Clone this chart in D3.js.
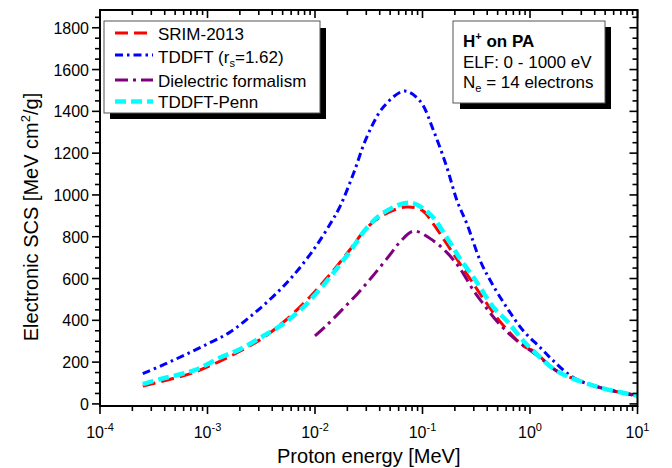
<!DOCTYPE html>
<html><head><meta charset="utf-8">
<script src="https://cdn.jsdelivr.net/npm/d3@7"></script>
<style>body{margin:0;background:#fff}svg{display:block}text{font-family:"Liberation Sans",Arial,sans-serif}</style>
</head><body><svg id="c" width="672" height="468"></svg>
<script>
// ---- data (energy in MeV, SCS in MeV cm^2/g) ----
const srimE = [2.5e-4,4.5e-4,7.4e-4,1.22e-3,2e-3,3.3e-3,5.1e-3,7.8e-3,0.0104,0.0149,0.0213,0.0304,0.0435,0.07,0.1,0.127,0.169,0.225,0.3,0.4,0.57,0.87,1.08,1.78,4.5,10];
const srimV = [85,118,150,197,252,317,392,480,548,640,740,843,905,942,925,859,764,668,572,477,373,277,253,157,78,40];
const tddftE = [2.5e-4,4e-4,6.3e-4,1e-3,1.58e-3,2.5e-3,4e-3,6.3e-3,0.01,0.0141,0.0172,0.0229,0.0304,0.0435,0.068,0.095,0.127,0.169,0.21,0.26,0.345,0.43,0.61,0.87,1.25,1.66,2.55,4.5,10];
const tddftV = [145,190,237,287,340,418,510,615,748,868,948,1105,1278,1422,1497,1449,1306,1130,971,859,684,588,460,349,269,205,125,78,38];
const dielE = [0.01,0.0126,0.0178,0.0251,0.0355,0.05,0.063,0.083,0.127,0.169,0.209,0.242,0.3,0.37,0.49,0.7,1.25,1.78,4.5,10];
const dielV = [325,372,450,530,620,715,780,827,780,724,668,620,540,477,397,317,221,157,78,40];
const pennE = [2.5e-4,3.6e-4,5.6e-4,8e-4,1.3e-3,2e-3,3.3e-3,5.1e-3,7.8e-3,0.0104,0.0149,0.0213,0.0304,0.0435,0.077,0.118,0.169,0.225,0.3,0.345,0.46,0.61,0.87,1.08,1.78,4.5,10];
const pennV = [95,118,142,166,221,261,325,384,463,532,628,732,843,915,963,907,795,692,604,556,460,397,301,253,157,78,40];
const seriesNames = ["SRIM-2013","TDDFT (r","Dielectric formalism","TDDFT-Penn"];
const xTickExp = [-4,-3,-2,-1,0,1];
const yTicks = [0,200,400,600,800,1000,1200,1400,1600,1800];
const infoLines = ["on PA","ELF: 0 - 1000 eV","= 14 electrons"];

const svg = d3.select("#c");
const L=100, R=637.5, T=10, B=406;
const x = d3.scaleLog().domain([1e-4,10]).range([L,R]);
const y = d3.scaleLinear().domain([-10,1885]).range([B,T]);

// curves
const styles = [
  {E:srimE,V:srimV,color:"#ff0000",w:3,dash:"13,6"},
  {E:tddftE,V:tddftV,color:"#0000ff",w:3,dash:"8,4,2.5,4"},
  {E:dielE,V:dielV,color:"#800080",w:3,dash:"13,5,3,5"},
  {E:pennE,V:pennV,color:"#00ffff",w:4.5,dash:"11,5"}
];
const line = d3.line().x(d=>x(d[0])).y(d=>y(d[1])).curve(d3.curveCatmullRom.alpha(0.5));
const g = svg.append("g");
styles.forEach(s=>{
  g.append("path").attr("d",line(s.E.map((e,i)=>[e,s.V[i]])))
   .attr("fill","none").attr("stroke",s.color).attr("stroke-width",s.w)
   .attr("stroke-dasharray",s.dash);
});

// frame
svg.append("rect").attr("x",L).attr("y",T).attr("width",R-L).attr("height",B-T)
  .attr("fill","none").attr("stroke","#000").attr("stroke-width",2);

// axes
const minorX=[];
for(let p=-4;p<1;p++) for(let k=2;k<10;k++) minorX.push(k*Math.pow(10,p));
const majorX = xTickExp.map(e=>Math.pow(10,e));
const tk = svg.append("g").attr("stroke","#000").attr("stroke-width",1.6);
majorX.forEach(v=>{
  tk.append("line").attr("x1",x(v)).attr("x2",x(v)).attr("y1",B).attr("y2",B+8);
  tk.append("line").attr("x1",x(v)).attr("x2",x(v)).attr("y1",T).attr("y2",T+8);
});
minorX.forEach(v=>{
  tk.append("line").attr("x1",x(v)).attr("x2",x(v)).attr("y1",B).attr("y2",B+5);
  tk.append("line").attr("x1",x(v)).attr("x2",x(v)).attr("y1",T).attr("y2",T+5);
});
const minorY=[]; for(let v=0;v<=1850;v+=50) if(v%200!==0) minorY.push(v);
yTicks.forEach(v=>{
  tk.append("line").attr("x1",L-8).attr("x2",L).attr("y1",y(v)).attr("y2",y(v));
  tk.append("line").attr("x1",R-8).attr("x2",R).attr("y1",y(v)).attr("y2",y(v));
});
minorY.forEach(v=>{
  tk.append("line").attr("x1",L-5).attr("x2",L).attr("y1",y(v)).attr("y2",y(v));
  tk.append("line").attr("x1",R-5).attr("x2",R).attr("y1",y(v)).attr("y2",y(v));
});
// tick labels
yTicks.forEach(v=>{
  svg.append("text").attr("x",L-11).attr("y",y(v)+6).attr("text-anchor","end")
    .attr("font-size",16).text(v);
});
xTickExp.forEach(e=>{
  const t = svg.append("text").attr("x",x(Math.pow(10,e))).attr("y",438).attr("text-anchor","middle").attr("font-size",16);
  t.append("tspan").text("10");
  t.append("tspan").attr("font-size",11).attr("dy",-7).text(e);
});
// titles
svg.append("text").attr("x",(L+R)/2).attr("y",463).attr("text-anchor","middle").attr("font-size",20).text("Proton energy [MeV]");
const yt = svg.append("text").attr("transform","translate(38,217) rotate(-90)").attr("text-anchor","middle").attr("font-size",20);
yt.append("tspan").text("Electronic SCS [MeV cm");
yt.append("tspan").attr("font-size",13).attr("dy",-8).text("2");
yt.append("tspan").attr("dy",8).text("/g]");

// legend
svg.append("rect").attr("x",110).attr("y",28).attr("width",216).attr("height",91).attr("fill","#000");
svg.append("rect").attr("x",104).attr("y",21).attr("width",216).attr("height",92).attr("fill","#fff").attr("stroke","#555").attr("stroke-width",1);
const ly=[33,55,80,101.5], lb=[40,62.5,87,108];
styles.forEach((s,i)=>{
  svg.append("line").attr("x1",115).attr("x2",153).attr("y1",ly[i]).attr("y2",ly[i])
    .attr("stroke",s.color).attr("stroke-width",s.w).attr("stroke-dasharray",s.dash);
  const t = svg.append("text").attr("x",158).attr("y",lb[i]).attr("font-size",17);
  t.append("tspan").text(seriesNames[i]);
  if(i===1){
    t.append("tspan").attr("font-size",11).attr("dy",4).text("s");
    t.append("tspan").attr("dy",-4).text("=1.62)");
  }
});

// info box
svg.append("rect").attr("x",460).attr("y",27).attr("width",151).attr("height",82).attr("fill","#000");
svg.append("rect").attr("x",453).attr("y",21).attr("width",152).attr("height",82).attr("fill","#fff").attr("stroke","#555").attr("stroke-width",1);
const t1 = svg.append("text").attr("x",463).attr("y",47).attr("font-size",17).attr("font-weight","bold");
t1.append("tspan").text("H");
t1.append("tspan").attr("font-size",11).attr("dy",-7).text("+");
t1.append("tspan").attr("dy",7).text(" "+infoLines[0]);
svg.append("text").attr("x",463).attr("y",68).attr("font-size",17).text(infoLines[1]);
const t3 = svg.append("text").attr("x",463).attr("y",88).attr("font-size",17);
t3.append("tspan").text("N");
t3.append("tspan").attr("font-size",11).attr("dy",4).text("e");
t3.append("tspan").attr("dy",-4).text(" "+infoLines[2]);
</script></body></html>
